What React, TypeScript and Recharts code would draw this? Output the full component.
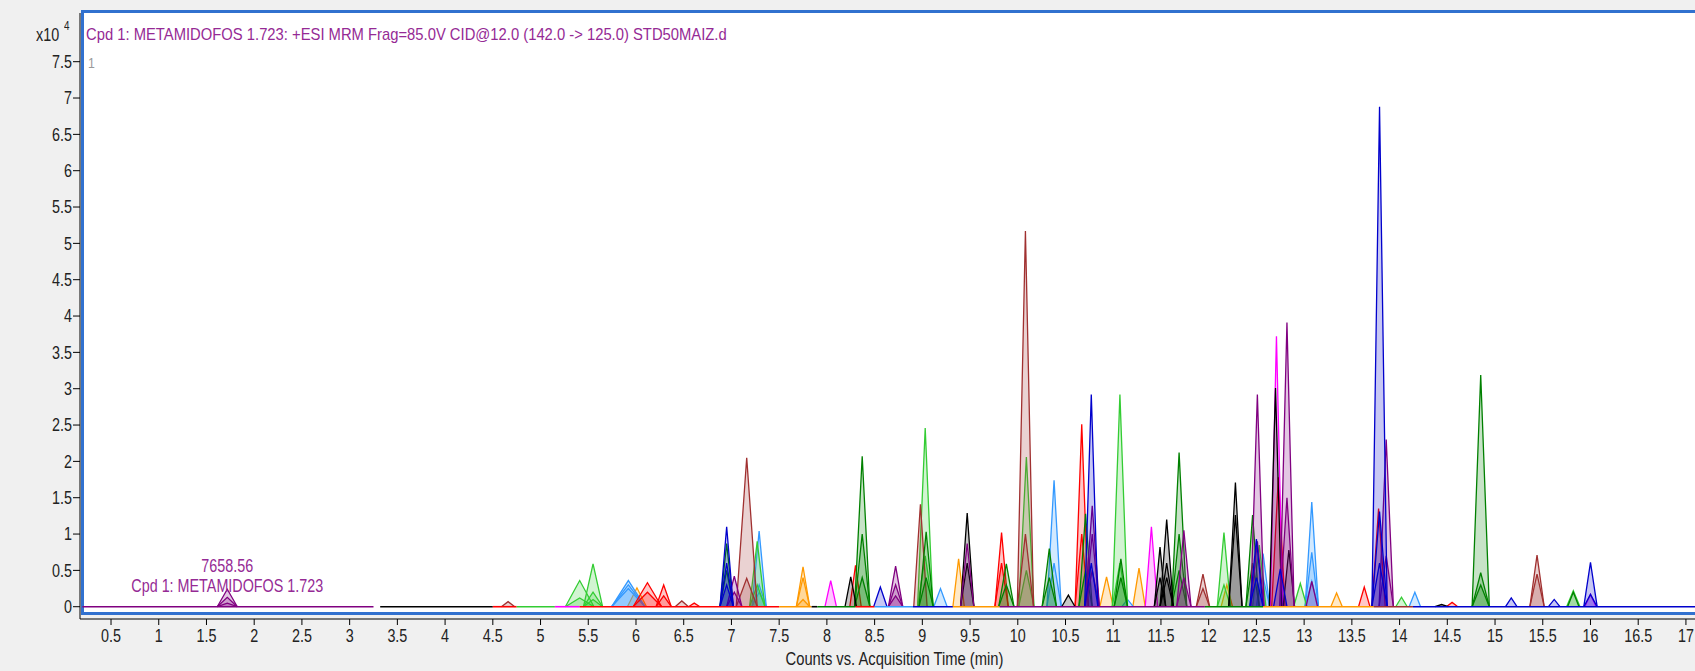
import { ComposedChart, Area, Line, XAxis, YAxis, ReferenceDot, Label } from 'recharts';

if (typeof document !== 'undefined') document.body.style.margin = '0';

// Arial-metric font squeezed horizontally to look like the narrow UI font of the original
const FONT = "'Liberation Sans', Arial, sans-serif";
const NARROW = 0.82;

const X_TICKS = [0.5, 1, 1.5, 2, 2.5, 3, 3.5, 4, 4.5, 5, 5.5, 6, 6.5, 7, 7.5, 8, 8.5, 9, 9.5, 10, 10.5, 11, 11.5, 12, 12.5, 13, 13.5, 14, 14.5, 15, 15.5, 16, 16.5, 17];
const Y_TICKS = [0, 0.5, 1, 1.5, 2, 2.5, 3, 3.5, 4, 4.5, 5, 5.5, 6, 6.5, 7, 7.5];

// [retention time (min), height (x10^4 counts), base width (min), ...qualifier heights]
type Peak = number[];

const GREEN: Peak[] = [
  [5.41, 0.36, 0.3, 0.12],
  [5.55, 0.59, 0.2, 0.2, 0.1],
  [7.27, 0.9, 0.16, 0.3],
  [9.03, 2.46, 0.16, 0.7],
  [10.09, 2.06, 0.16, 0.5],
  [11.07, 2.92, 0.16, 0.6],
  [12.16, 1.02, 0.14, 0.3],
  [12.53, 0.85, 0.14],
  [12.96, 0.32, 0.14],
  [14.02, 0.13, 0.12],
  [15.82, 0.22, 0.14],
];

const DARK_GREEN: Peak[] = [
  [6.95, 0.87, 0.14, 0.5],
  [8.37, 2.07, 0.16, 1.0, 0.4],
  [9.04, 1.03, 0.15, 0.4],
  [9.88, 0.59, 0.16, 0.3],
  [10.33, 0.8, 0.15, 0.4],
  [10.71, 1.28, 0.14, 0.5],
  [11.08, 0.66, 0.14, 0.4],
  [11.69, 2.12, 0.16, 1.0, 0.5],
  [12.46, 1.26, 0.14, 0.6],
  [14.85, 3.19, 0.18, 0.47, 0.3],
  [15.82, 0.2, 0.12],
];

const BLUE: Peak[] = [
  [6.95, 1.1, 0.14, 0.6, 0.3],
  [8.56, 0.27, 0.14],
  [10.77, 2.92, 0.14, 0.6],
  [12.5, 0.93, 0.14, 0.4],
  [12.75, 0.52, 0.14],
  [13.79, 6.88, 0.16, 1.31, 0.6],
  [15.17, 0.12, 0.12],
  [15.62, 0.1, 0.12],
  [16.0, 0.61, 0.14, 0.17],
];

const LIGHT_BLUE: Peak[] = [
  [5.92, 0.36, 0.35, 0.3, 0.25],
  [7.29, 1.04, 0.15, 0.3, 0.2],
  [9.19, 0.25, 0.14],
  [10.38, 1.74, 0.15, 0.6],
  [11.15, 0.1, 0.12],
  [12.57, 0.73, 0.14, 0.4],
  [13.08, 1.44, 0.14, 0.75, 0.35],
  [14.16, 0.2, 0.12],
];

const RED: Peak[] = [
  [6.12, 0.33, 0.3, 0.2],
  [6.29, 0.3, 0.16, 0.15],
  [6.61, 0.05, 0.12],
  [8.3, 0.57, 0.12],
  [9.83, 1.02, 0.14, 0.6],
  [10.67, 2.51, 0.14, 1.0],
  [12.73, 1.78, 0.14],
  [13.63, 0.27, 0.12],
  [13.78, 1.35, 0.14],
  [14.55, 0.06, 0.12],
];

const BROWN: Peak[] = [
  [4.66, 0.07, 0.14],
  [6.48, 0.08, 0.14],
  [7.16, 2.05, 0.22, 0.39],
  [8.98, 1.41, 0.14],
  [10.08, 5.17, 0.17, 1.0],
  [11.94, 0.45, 0.14, 0.25],
  [15.44, 0.71, 0.15, 0.45],
];

const PURPLE: Peak[] = [
  [1.718, 0.24, 0.21, 0.13, 0.05],
  [7.03, 0.42, 0.16, 0.2],
  [8.72, 0.56, 0.15, 0.3, 0.15],
  [9.47, 0.87, 0.14],
  [10.78, 1.39, 0.15, 1.0, 0.5],
  [11.74, 1.05, 0.15, 0.4],
  [12.51, 2.92, 0.14, 0.9],
  [12.82, 3.91, 0.15, 1.5],
  [13.08, 0.35, 0.12],
  [13.86, 2.3, 0.15, 0.7],
];

const MAGENTA: Peak[] = [
  [8.04, 0.36, 0.12],
  [11.4, 1.1, 0.13],
  [12.71, 3.72, 0.13],
  [16.0, 0.17, 0.12],
];

const ORANGE: Peak[] = [
  [6.01, 0.26, 0.2],
  [7.75, 0.55, 0.14, 0.4, 0.1],
  [9.38, 0.66, 0.12],
  [10.93, 0.41, 0.14],
  [11.27, 0.53, 0.13],
  [12.19, 0.3, 0.12],
  [13.34, 0.19, 0.12],
];

const BLACK: Peak[] = [
  [8.25, 0.41, 0.12],
  [9.47, 1.29, 0.14, 0.6],
  [10.53, 0.16, 0.14],
  [11.49, 0.82, 0.12, 0.4],
  [11.56, 1.2, 0.14, 0.6, 0.4],
  [12.28, 1.71, 0.14, 1.26],
  [12.7, 3.01, 0.13],
  [12.84, 0.78, 0.12],
  [14.44, 0.03, 0.14],
];

// baseline pieces of each trace: [colour, from (min), to (min)]
const BASELINE: [string, number, number][] = [
  ['#800080', 0.2, 3.25],
  ['#000000', 3.32, 4.5],
  ['#ff0000', 4.5, 4.75],
  ['#33cc33', 4.75, 5.15],
  ['#ff00ff', 5.15, 5.41],
  ['#ff0000', 5.41, 7.5],
  ['#ff9900', 7.5, 7.84],
  ['#000000', 7.84, 7.9],
  ['#008000', 7.9, 8.3],
  ['#ff0000', 8.3, 8.5],
  ['#3399ff', 8.5, 8.9],
  ['#0000cc', 8.9, 9.32],
  ['#ff9900', 9.32, 9.81],
  ['#800080', 9.81, 11.96],
  ['#008000', 11.96, 12.57],
  ['#ff9900', 12.57, 13.73],
  ['#a03030', 13.73, 14.14],
  ['#0000cc', 14.14, 17.1],
];

const TRACES = [
  { name: 'orange', color: '#ff9900', peaks: ORANGE },
  { name: 'lightblue', color: '#3399ff', peaks: LIGHT_BLUE },
  { name: 'green', color: '#33cc33', peaks: GREEN },
  { name: 'red', color: '#ff0000', peaks: RED },
  { name: 'brown', color: '#a03030', peaks: BROWN },
  { name: 'magenta', color: '#ff00ff', peaks: MAGENTA },
  { name: 'darkgreen', color: '#008000', peaks: DARK_GREEN },
  { name: 'black', color: '#000000', peaks: BLACK },
  { name: 'purple', color: '#800080', peaks: PURPLE },
  { name: 'blue', color: '#0000cc', peaks: BLUE },
];

const series = TRACES.flatMap((tr) =>
  tr.peaks.flatMap(([t, h, w, ...quals], i) =>
    [h, ...quals].map((v, j) => ({
      key: `${tr.name}-${i}-${j}`,
      color: tr.color,
      data: [
        { t: t - w / 2, v: 0 },
        { t, v },
        { t: t + w / 2, v: 0 },
      ],
    }))
  )
);

const PURPLE_TEXT = '#952a95';
const TICK_TEXT = '#222';

function XTick({ x, y, payload }: any) {
  return (
    <text
      transform={`translate(${x},${y}) scale(${NARROW},1)`}
      textAnchor="middle"
      dy={12.4}
      fontFamily={FONT}
      fontSize={17.5}
      fill={TICK_TEXT}
    >
      {payload.value}
    </text>
  );
}

function YTick({ x, y, payload }: any) {
  return (
    <text
      transform={`translate(${x},${y}) scale(${NARROW},1)`}
      textAnchor="end"
      dy={6.2}
      fontFamily={FONT}
      fontSize={17.5}
      fill={TICK_TEXT}
    >
      {payload.value}
    </text>
  );
}

function AxisTitle(props: any) {
  const vb = props.viewBox || {};
  const cx = vb.x + vb.width / 2 + 7;
  const by = vb.y + vb.height - 6;
  return (
    <text transform={`translate(${cx},${by}) scale(${NARROW},1)`} textAnchor="middle" fontFamily={FONT} fontSize={18} fill={TICK_TEXT}>
      Counts vs. Acquisition Time (min)
    </text>
  );
}

function PeakLabel(props: any) {
  const { x, y } = props.viewBox || {};
  return (
    <g fontFamily={FONT} fontSize={17.5} fill={PURPLE_TEXT} textAnchor="middle">
      <text transform={`translate(${x},${y - 17}) scale(${NARROW},1)`}>7658.56</text>
      <text transform={`translate(${x},${y + 3}) scale(${NARROW},1)`}>Cpd 1: METAMIDOFOS 1.723</text>
    </g>
  );
}

const squeeze = (s: number) => ({ transform: `scaleX(${s})`, transformOrigin: 'left center' });

export default function App() {
  return (
    <div style={{ position: 'relative', width: 1695, height: 671, background: '#f0f0f0', overflow: 'hidden' }}>
      <div
        style={{
          position: 'absolute',
          left: 81,
          top: 10,
          width: 1700,
          height: 605,
          boxSizing: 'border-box',
          background: '#fff',
          borderTop: '3px solid #3171cf',
          borderLeft: '3px solid #3171cf',
          borderBottom: '3px solid #3171cf',
        }}
      />
      <div style={{ position: 'absolute', left: 0, top: 0 }}>
        <ComposedChart width={1695} height={671} margin={{ top: 13, right: 0, bottom: 0, left: 0 }}>
          <XAxis
            type="number"
            dataKey="t"
            domain={[0.175, 17.095]}
            allowDataOverflow
            ticks={X_TICKS}
            interval={0}
            height={52}
            tickSize={6}
            tickMargin={5}
            axisLine={{ stroke: '#000' }}
            tickLine={{ stroke: '#000' }}
            tick={<XTick />}
          >
            <Label content={<AxisTitle />} position="insideBottom" />
          </XAxis>
          <YAxis
            type="number"
            domain={[-0.169, 8.17]}
            allowDataOverflow
            ticks={Y_TICKS}
            interval={0}
            width={80}
            tickSize={7}
            tickMargin={1}
            axisLine={{ stroke: '#000' }}
            tickLine={{ stroke: '#000' }}
            tick={<YTick />}
          />
          {BASELINE.map(([color, from, to], i) => (
            <Line
              key={`base-${i}`}
              data={[{ t: from, v: 0 }, { t: to, v: 0 }]}
              dataKey="v"
              type="linear"
              stroke={color}
              strokeWidth={1.6}
              dot={false}
              activeDot={false}
              isAnimationActive={false}
            />
          ))}
          {series.map((s) => (
            <Area
              key={s.key}
              data={s.data}
              dataKey="v"
              type="linear"
              stroke={s.color}
              strokeWidth={1.3}
              fill={s.color}
              fillOpacity={0.22}
              dot={false}
              activeDot={false}
              isAnimationActive={false}
            />
          ))}
          <ReferenceDot x={1.718} y={0.24} r={0} fill="none" stroke="none" label={PeakLabel} />
        </ComposedChart>
      </div>
      <div style={{ position: 'absolute', left: 36, top: 24, fontFamily: FONT, fontSize: 17.5, lineHeight: '22px', color: TICK_TEXT, ...squeeze(NARROW) }}>x10</div>
      <div style={{ position: 'absolute', left: 64, top: 18, fontFamily: FONT, fontSize: 12, lineHeight: '16px', color: TICK_TEXT, ...squeeze(NARROW) }}>4</div>
      <div style={{ position: 'absolute', left: 86, top: 24, fontFamily: FONT, fontSize: 17, lineHeight: '22px', color: PURPLE_TEXT, whiteSpace: 'nowrap', ...squeeze(0.87) }}>
        Cpd 1: METAMIDOFOS 1.723: +ESI MRM Frag=85.0V CID@12.0 (142.0 -&gt; 125.0) STD50MAIZ.d
      </div>
      <div style={{ position: 'absolute', left: 88, top: 53, fontFamily: FONT, fontSize: 15, lineHeight: '20px', color: '#999', ...squeeze(NARROW) }}>1</div>
    </div>
  );
}
